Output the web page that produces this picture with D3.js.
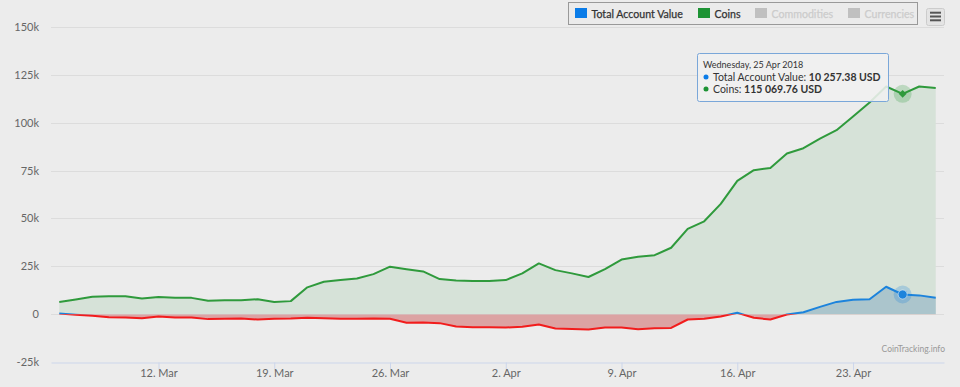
<!DOCTYPE html>
<html>
<head>
<meta charset="utf-8">
<script src="https://cdn.jsdelivr.net/npm/d3@7"></script>
<style>
  html, body { margin: 0; padding: 0; background: #ececec; }
  svg { display: block; font-family: Lato, "Open Sans", sans-serif; }
</style>
</head>
<body>
<div id="chart"></div>
<script>
// portfolio values, daily from 6 Mar 2018 (USD)
var startDay = new Date(2018, 2, 6);
var coins = [6300, 7700, 9100, 9400, 9300, 8200, 8900, 8500, 8500, 7000,
             7200, 7200, 7800, 6400, 6800, 14000, 16900, 17800, 18600, 20900,
             24800, 23500, 22300, 18300, 17600, 17300, 17300, 17800, 21300, 26500,
             23000, 21300, 19400, 23500, 28500, 30000, 30800, 34700, 44500, 48500,
             57600, 69600, 75200, 76400, 83900, 86700, 91700, 96100, 103200, 110600,
             118900, 115069.76, 118900, 118100];
var totalValue = [300, -300, -900, -1600, -1800, -2100, -1200, -1800, -1700, -2600,
                  -2400, -2300, -2800, -2400, -2300, -1900, -2100, -2400, -2400, -2300,
                  -2400, -4500, -4400, -4700, -6500, -6800, -6800, -7000, -6600, -5400,
                  -7500, -7700, -8000, -7000, -7000, -7900, -7400, -7200, -2800, -2400,
                  -1200, 700, -1900, -2800, -200, 1000, 3800, 6400, 7500, 7800,
                  14300, 10257.38, 9800, 8600];
var yTicks = [-25000, 0, 25000, 50000, 75000, 100000, 125000, 150000];
var legendItems = ["Total Account Value", "Coins", "Commodities", "Currencies"];
var hoverIndex = 51;
var hoverLabel = "Wednesday, 25 Apr 2018";

var W = 960, H = 387,
    plotLeft = 51, plotRight = 944, plotTop = 27, plotBottom = 362;

var days = coins.map(function (d, i) { return d3.timeDay.offset(startDay, i); });
var data = days.map(function (d, i) { return {date: d, coins: coins[i], tav: totalValue[i]}; });

var x = d3.scaleTime()
    .domain([d3.timeHour.offset(days[0], -12), d3.timeHour.offset(days[days.length - 1], 12)])
    .range([plotLeft, plotRight]);
var y = d3.scaleLinear().domain([-25000, 150000]).range([plotBottom, plotTop]);

var svg = d3.select("#chart").append("svg").attr("width", W).attr("height", H);

// gridlines
svg.append("g").selectAll("line").data(yTicks.slice(1)).enter().append("line")
    .attr("x1", plotLeft).attr("x2", plotRight)
    .attr("y1", function (d) { return Math.round(y(d)) + 0.5; })
    .attr("y2", function (d) { return Math.round(y(d)) + 0.5; })
    .attr("stroke", "#dcdcdc").attr("stroke-width", 1);

// y labels
svg.append("g").selectAll("text").data(yTicks).enter().append("text")
    .attr("x", 39).attr("y", function (d) { return y(d) + 4; })
    .attr("text-anchor", "end").attr("font-size", 11).attr("fill", "#666")
    .text(function (d) { return d === 0 ? "0" : (d / 1000) + "k"; });

// clip regions above / below zero
var defs = svg.append("defs");
defs.append("clipPath").attr("id", "above").append("rect")
    .attr("x", 0).attr("y", 0).attr("width", W).attr("height", y(0));
defs.append("clipPath").attr("id", "below").append("rect")
    .attr("x", 0).attr("y", y(0)).attr("width", W).attr("height", H - y(0));

var areaCoins = d3.area().x(function (d) { return x(d.date); })
    .y0(y(0)).y1(function (d) { return y(d.coins); });
var lineCoins = d3.line().x(function (d) { return x(d.date); })
    .y(function (d) { return y(d.coins); });
var areaTav = d3.area().x(function (d) { return x(d.date); })
    .y0(y(0)).y1(function (d) { return y(d.tav); });
var lineTav = d3.line().x(function (d) { return x(d.date); })
    .y(function (d) { return y(d.tav); });

svg.append("path").datum(data).attr("d", areaCoins).attr("fill", "#d6e2d8");
svg.append("path").datum(data).attr("d", areaTav).attr("fill", "#abc5cc")
    .attr("clip-path", "url(#above)");
svg.append("path").datum(data).attr("d", areaTav).attr("fill", "#dca3a3")
    .attr("clip-path", "url(#below)");

svg.append("path").datum(data).attr("d", lineCoins).attr("fill", "none")
    .attr("stroke", "#2f9a3c").attr("stroke-width", 2).attr("stroke-linejoin", "round");
svg.append("path").datum(data).attr("d", lineTav).attr("fill", "none")
    .attr("stroke", "#1c83dc").attr("stroke-width", 2).attr("stroke-linejoin", "round")
    .attr("clip-path", "url(#above)");
svg.append("path").datum(data).attr("d", lineTav).attr("fill", "none")
    .attr("stroke", "#f21c1c").attr("stroke-width", 2).attr("stroke-linejoin", "round")
    .attr("clip-path", "url(#below)");

// x axis
var xAxis = d3.axisBottom(x).ticks(d3.timeMonday.every(1))
    .tickFormat(d3.timeFormat("%-d. %b")).tickSize(8).tickSizeOuter(0);
var gx = svg.append("g").attr("transform", "translate(0," + (plotBottom + 0.5) + ")").call(xAxis);
gx.select(".domain").attr("stroke", "#ccd6eb");
gx.selectAll(".tick line").attr("stroke", "#ccd6eb");
gx.selectAll(".tick text").attr("fill", "#666").attr("font-size", 11)
    .attr("font-family", "Lato, sans-serif").attr("dy", "0.35em");

// hover markers
var hp = data[hoverIndex];
svg.append("circle").attr("cx", x(hp.date)).attr("cy", y(hp.tav)).attr("r", 9)
    .attr("fill", "#1c83dc").attr("opacity", 0.25);
svg.append("circle").attr("cx", x(hp.date)).attr("cy", y(hp.tav)).attr("r", 4.5)
    .attr("fill", "#1c83dc").attr("stroke", "#ffffff").attr("stroke-width", 0.5);
svg.append("circle").attr("cx", x(hp.date)).attr("cy", y(hp.coins)).attr("r", 9)
    .attr("fill", "#2f9a3c").attr("opacity", 0.25);
svg.append("path").attr("d", d3.symbol().type(d3.symbolDiamond2).size(40)())
    .attr("transform", "translate(" + x(hp.date) + "," + y(hp.coins) + ")")
    .attr("fill", "#2f9a3c");

// credits
svg.append("text").attr("x", 945).attr("y", 352).attr("text-anchor", "end")
    .attr("font-size", 8.5).attr("fill", "#999").text("CoinTracking.info");

// legend
var legendColors = ["#0a7ce8", "#1d9334", "#c0c0c0", "#c0c0c0"];
var legendText = ["#333", "#333", "#cccccc", "#cccccc"];
var legendX = [575, 698, 755, 848];
var lg = svg.append("g");
lg.append("rect").attr("x", 568.5).attr("y", 2.5).attr("width", 349).attr("height", 22)
    .attr("fill", "#ebebeb").attr("stroke", "#999").attr("stroke-width", 1);
legendItems.forEach(function (name, i) {
    lg.append("rect").attr("x", legendX[i]).attr("y", 8).attr("width", 12).attr("height", 10)
        .attr("fill", legendColors[i]);
    lg.append("text").attr("x", legendX[i] + 16.5).attr("y", 17.5)
        .attr("font-size", 10.6).attr("fill", legendText[i])
        .attr("stroke", legendText[i]).attr("stroke-width", 0.25)
        .text(name);
});

// menu button
var mb = svg.append("g");
mb.append("rect").attr("x", 926.5).attr("y", 8.5).attr("width", 18).attr("height", 17).attr("rx", 2)
    .attr("fill", "#e4e4e4").attr("stroke", "#cccccc");
[12.7, 16.5, 20.3].forEach(function (yy) {
    mb.append("line").attr("x1", 930).attr("x2", 941).attr("y1", yy).attr("y2", yy)
        .attr("stroke", "#555").attr("stroke-width", 2);
});

// tooltip
var tt = svg.append("g");
tt.append("rect").attr("x", 697.5).attr("y", 53.5).attr("width", 191).attr("height", 48)
    .attr("rx", 2).attr("fill", "rgba(240,240,240,0.88)").attr("stroke", "#7aa7d9");
tt.append("text").attr("x", 703).attr("y", 68).attr("font-size", 9).attr("fill", "#333")
    .text(hoverLabel);
var fmt = function (v) { return d3.format(",.2f")(v).replace(/,/g, " ") + " USD"; };
[["#0a7ce8", "Total Account Value: ", hp.tav, 80.5], ["#1d9334", "Coins: ", hp.coins, 92.5]]
    .forEach(function (r) {
        tt.append("circle").attr("cx", 706).attr("cy", r[3] - 3.5).attr("r", 2.5).attr("fill", r[0]);
        var t = tt.append("text").attr("x", 713).attr("y", r[3]).attr("font-size", 10.5).attr("fill", "#333");
        t.append("tspan").text(r[1]);
        t.append("tspan").attr("font-weight", "bold").text(fmt(r[2]));
    });
</script>
</body>
</html>
